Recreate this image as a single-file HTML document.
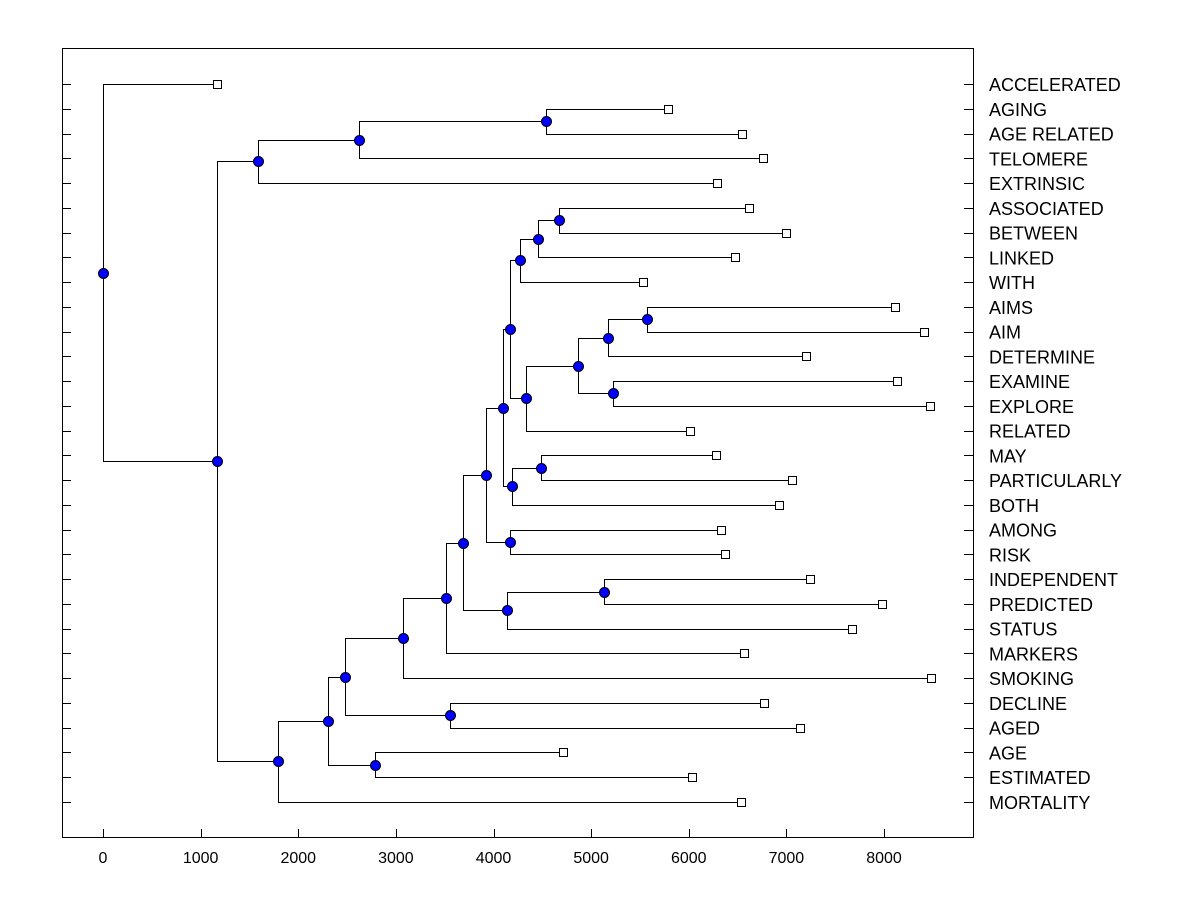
<!DOCTYPE html>
<html><head><meta charset="utf-8"><style>
body{margin:0;background:#fff}
svg{display:block;font-family:"Liberation Sans",Arial,sans-serif}
</style></head><body>
<svg id="c" width="1200" height="900"></svg>
<script>
const labels=["ACCELERATED","AGING","AGE RELATED","TELOMERE","EXTRINSIC","ASSOCIATED","BETWEEN","LINKED","WITH","AIMS","AIM","DETERMINE","EXAMINE","EXPLORE","RELATED","MAY","PARTICULARLY","BOTH","AMONG","RISK","INDEPENDENT","PREDICTED","STATUS","MARKERS","SMOKING","DECLINE","AGED","AGE","ESTIMATED","MORTALITY"];
const leafValues=[1168,5787,6545,6760,6289,6617,6996,6473,5531,8112,8409,7201,8133,8471,6012,6279,7057,6924,6330,6371,7242,7979,7672,6566,8481,6770,7139,4712,6033,6535];
// internal nodes: [name, value, childA, childB]
const nodes=[
["n_aging",4537,"AGING","AGE RELATED"],
["n_tel",2622,"n_aging","TELOMERE"],
["n_ext",1588,"n_tel","EXTRINSIC"],
["n_assoc",4671,"ASSOCIATED","BETWEEN"],
["n_linked",4456,"n_assoc","LINKED"],
["n_with",4271,"n_linked","WITH"],
["n_aims",5572,"AIMS","AIM"],
["n_det",5173,"n_aims","DETERMINE"],
["n_exam",5224,"EXAMINE","EXPLORE"],
["n_de",4865,"n_det","n_exam"],
["n_rel",4333,"n_de","RELATED"],
["n_wr",4169,"n_with","n_rel"],
["n_may",4486,"MAY","PARTICULARLY"],
["n_both",4189,"n_may","BOTH"],
["n_top",4097,"n_wr","n_both"],
["n_among",4169,"AMONG","RISK"],
["n_ar",3923,"n_top","n_among"],
["n_ind",5132,"INDEPENDENT","PREDICTED"],
["n_stat",4138,"n_ind","STATUS"],
["n_x",3687,"n_ar","n_stat"],
["n_mark",3513,"n_x","MARKERS"],
["n_smok",3073,"n_mark","SMOKING"],
["n_dec",3554,"DECLINE","AGED"],
["n_d2",2479,"n_smok","n_dec"],
["n_age",2786,"AGE","ESTIMATED"],
["n_ae",2305,"n_d2","n_age"],
["n_mort",1792,"n_ae","MORTALITY"],
["n_main",1168,"n_ext","n_mort"],
["root",0,"ACCELERATED","n_main"]];
const xTicks=[0,1000,2000,3000,4000,5000,6000,7000,8000];

const svg=document.getElementById('c');const NS="http://www.w3.org/2000/svg";
const L=62,R=973,T=48,B=837;
const X=v=>103+v*(884-103)/8000;
const Y=i=>84+i*(802-84)/29;
function mk(t,a,p){const e=document.createElementNS(NS,t);for(const k in a)e.setAttribute(k,a[k]);(p||svg).appendChild(e);return e;}
const fr=mk('rect',{x:L+.5,y:T+.5,width:R-L,height:B-T,fill:'none',stroke:'#000','stroke-width':1});


labels.forEach((l,i)=>{const y=Math.round(Y(i))+.5;
 const t1=mk('line',{x1:L,x2:L+9,y1:y,y2:y,stroke:'#000'});
 
 
 const t2=mk('line',{x1:R-9,x2:R,y1:y,y2:y,stroke:'#000'});
 
 
 const tx=mk('text',{x:989,y:Y(i)+7,'font-size':18,fill:'#000'});tx.textContent=l;
 
 
});
xTicks.forEach(v=>{const x=Math.round(X(v))+.5;
 const t=mk('line',{x1:x,x2:x,y1:B-8,y2:B,stroke:'#000'});
 
 
 const tx=mk('text',{x:X(v),y:863,'font-size':16,'text-anchor':'middle'});tx.textContent=v;
 
 
});
const pos={};labels.forEach((l,i)=>pos[l]={x:X(leafValues[i]),y:Y(i)});
const g=mk('g',{});
const dots=[];
nodes.forEach(([n,v,a,b])=>{const x=X(v),pa=pos[a],pb=pos[b];const y=(pa.y+pb.y)/2;pos[n]={x,y};
 const p=mk('path',{d:`M${pa.x},${Math.round(pa.y)+.5}H${Math.round(x)+.5}V${Math.round(pb.y)+.5}H${pb.x}`,fill:'none',stroke:'#000','stroke-width':1},g);
 
 
 dots.push([x,y,n]);});
labels.forEach(l=>{const p=pos[l];
 const r=mk('rect',{x:Math.round(p.x)-3.5,y:Math.round(p.y)-3.5,width:8,height:8,fill:'#fff',stroke:'#000'});
 
 });
dots.forEach(([x,y,n])=>{const c=mk('circle',{cx:Math.round(x)+.5,cy:Math.round(y)+.5,r:5,fill:'#0000ff',stroke:'#000','stroke-width':1});
 
 });
</script>
</body></html>
